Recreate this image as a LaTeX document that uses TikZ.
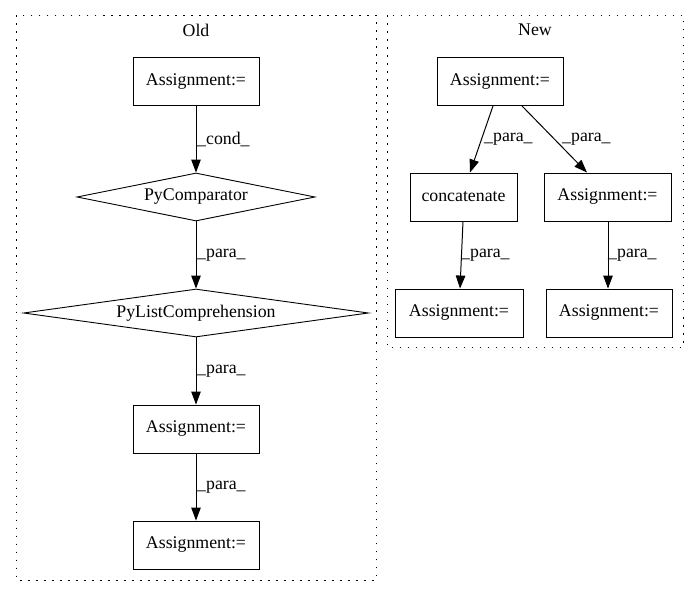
\documentclass[tikz,border=0pt]{standalone}
\usepackage{fontspec}
\setmainfont{Liberation Serif}
\usetikzlibrary{shapes.geometric,arrows.meta}
\begin{document}
\begin{tikzpicture}[x=1pt,y=-1pt,
  every node/.style={font=\fontsize{17.8pt}{20pt}\selectfont},
  box/.style={draw,line width=0.9pt,rectangle,minimum width=126pt,minimum height=48pt,inner sep=0pt},
  dia/.style={draw,line width=0.9pt,diamond,aspect=6,inner sep=0pt},
  cluster/.style={draw,line width=1pt,dash pattern=on 1.5pt off 6.5pt},
  edge/.style={draw,line width=1pt,-{Triangle[length=13pt,width=9.5pt]}},
  elabel/.style={anchor=west,inner sep=0pt}]
\useasboundingbox (0,0) rectangle (699,596);
% clusters
\draw[cluster] (16.5,15.5) rectangle (376,580);
\node (oldlbl) at (196,30) {Old};
\draw[cluster] (387,15.5) rectangle (683,347);
\node (newlbl) at (535,30) {New};
% old nodes
\node[box] (o1) at (196,81.5) {Assignment:=};
\node[dia,minimum width=238pt,minimum height=48pt] (o2) at (196,197) {PyComparator};
\node[dia,minimum width=345pt,minimum height=48pt] (o3) at (196,313) {PyListComprehension};
\node[box] (o4) at (196,429) {Assignment:=};
\node[box] (o5) at (196,545) {Assignment:=};
% new nodes
\node[box] (n1) at (500,81.5) {Assignment:=};
\node[box,minimum width=107pt] (n2) at (463.5,197) {concatenate};
\node[box,minimum width=127pt] (n3) at (607.5,197) {Assignment:=};
\node[box,minimum width=128pt] (n4) at (459,313) {Assignment:=};
\node[box] (n5) at (609,313) {Assignment:=};
% old edges
\draw[edge] (o1) -- (o2.north);
\draw[edge] (o2) -- (o3.north);
\draw[edge] (o3) -- (o4);
\draw[edge] (o4) -- (o5);
\node[elabel] (l1) at (197,139) {\_cond\_};
\node[elabel] (l2) at (197,255) {\_para\_};
\node[elabel] (l3) at (197,371) {\_para\_};
\node[elabel] (l4) at (197,487) {\_para\_};
% new edges
\draw[edge] ([xshift=-7pt]n1.south) -- ([xshift=6.5pt]n2.north);
\draw[edge] ([xshift=22pt]n1.south) -- ([xshift=-20.5pt]n3.north);
\draw[edge] ([xshift=-0.5pt]n2.south) -- ([xshift=1pt]n4.north);
\draw[edge] ([xshift=0.5pt]n3.south) -- ([xshift=-1pt]n5.north);
\node[elabel] (l5) at (484,139) {\_para\_};
\node[elabel] (l6) at (562,139) {\_para\_};
\node[elabel] (l7) at (461,255) {\_para\_};
\node[elabel] (l8) at (608,255) {\_para\_};
\end{tikzpicture}
\end{document}
